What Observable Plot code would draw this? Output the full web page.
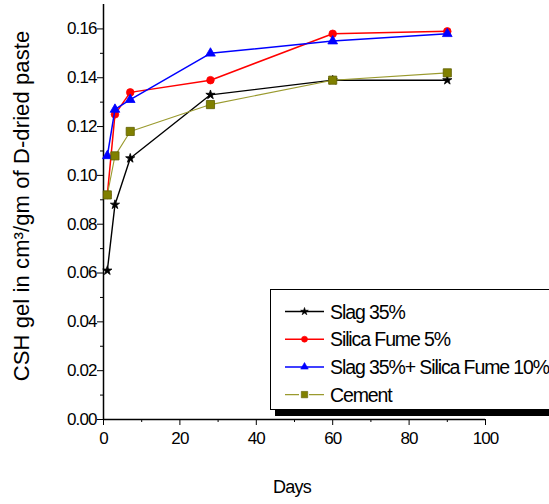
<!DOCTYPE html>
<html>
<head>
<meta charset="utf-8">
<script src="https://cdn.jsdelivr.net/npm/d3@7"></script>
<script src="https://cdn.jsdelivr.net/npm/@observablehq/plot@0.6"></script>
<style>
  html, body { margin: 0; padding: 0; background: #fff; }
  #wrap { position: relative; width: 549px; height: 504px; overflow: hidden; font-family: "Liberation Sans", Arial, sans-serif; }
  #wrap > svg { position: absolute; left: 0; top: 0; }
  #overlay { pointer-events: none; }
</style>
</head>
<body>
<div id="wrap"></div>
<script>
// ---- data ----
const days = [1, 3, 7, 28, 60, 90];
const seriesNames = ["Slag 35%", "Silica Fume 5%", "Slag 35%+ Silica Fume 10%", "Cement"];
const slag35 = [0.061, 0.088, 0.107, 0.133, 0.139, 0.139];
const silicaFume5 = [0.092, 0.125, 0.134, 0.139, 0.158, 0.159];
const slag35SilicaFume10 = [0.108, 0.127, 0.131, 0.150, 0.155, 0.158];
const cement = [0.092, 0.108, 0.118, 0.129, 0.139, 0.142];
const xTicks = [0, 20, 40, 60, 80, 100];
const yTicks = [0, 0.02, 0.04, 0.06, 0.08, 0.10, 0.12, 0.14, 0.16];
const xLabel = "Days";
const yLabel = "CSH gel in cm³/gm of D-dried paste";

// ---- styles ----
const styles = [
  {line: "#000000", lw: 1.4, fill: "#000000", stroke: "#000000", symbol: "star", r: 2.9, lr: 2.4},
  {line: "#ff0000", lw: 1.5, fill: "#ff0000", stroke: "#ff0000", symbol: "circle", r: 3.8, lr: 3},
  {line: "#0000ff", lw: 1.5, fill: "#0000ff", stroke: "#0000ff", symbol: "triangle", r: 3.6, lr: 2.8},
  {line: "#9a9a2e", lw: 1.1, fill: "#808000", stroke: "#5e5e00", symbol: "square", r: 4.6, lr: 3.6}
];
const values = [slag35, silicaFume5, slag35SilicaFume10, cement];
const rows = seriesNames.map((name, i) => days.map((d, j) => ({series: name, day: d, value: values[i][j]})));

const minorX = d3.range(10, 100, 20);
const minorY = d3.range(0.01, 0.17, 0.02);

const marks = [
  Plot.axisX({ticks: xTicks, tickSize: 6, tickPadding: 6, label: null, fontSize: 17}),
  Plot.axisX({ticks: minorX, tickSize: 3, tickFormat: () => "", label: null}),
  Plot.axisY({ticks: yTicks, tickSize: 6, tickPadding: 1, tickFormat: d3.format(".2f"), label: null, fontSize: 17}),
  Plot.axisY({ticks: minorY, tickSize: 3, tickFormat: () => "", label: null}),
  Plot.ruleX([0], {strokeWidth: 1.5}),
  Plot.ruleY([0], {strokeWidth: 1.5})
];
rows.forEach((data, i) => {
  const s = styles[i];
  marks.push(Plot.line(data, {x: "day", y: "value", stroke: s.line, strokeWidth: s.lw}));
  marks.push(Plot.dot(data, {x: "day", y: "value", symbol: () => s.symbol, r: s.r, fill: s.fill, stroke: s.stroke, strokeWidth: 0.8}));
});

const chart = Plot.plot({
  width: 549,
  height: 504,
  marginLeft: 103,
  marginRight: 64,
  marginTop: 4,
  marginBottom: 85,
  x: {domain: [0, 100]},
  y: {domain: [0, 0.17]},
  symbol: {type: "identity"},
  style: {fontFamily: "'Liberation Sans', Arial, sans-serif", color: "black", background: "white", overflow: "visible"},
  marks
});
chart.style.letterSpacing = "-0.9px";
document.getElementById("wrap").appendChild(chart);

// ---- overlay: axis titles + legend ----
const ov = d3.select("#wrap").append("svg").attr("id", "overlay")
  .attr("width", 549).attr("height", 504)
  .style("font-family", "'Liberation Sans', Arial, sans-serif");

ov.append("text")
  .attr("transform", "translate(29,206) rotate(-90)")
  .attr("text-anchor", "middle")
  .style("font-size", "22px")
  .style("letter-spacing", "0.1px")
  .text(yLabel);

ov.append("text")
  .attr("x", 292).attr("y", 493)
  .attr("text-anchor", "middle")
  .style("font-size", "18px")
  .style("letter-spacing", "-0.8px")
  .text(xLabel);

const lg = ov.append("g");
lg.append("rect").attr("x", 275).attr("y", 295).attr("width", 300).attr("height", 121).attr("fill", "#000");
lg.append("rect").attr("x", 270.5).attr("y", 289.5).attr("width", 300).attr("height", 120)
  .attr("fill", "#fff").attr("stroke", "#000").attr("stroke-width", 1);
seriesNames.forEach((name, i) => {
  const s = styles[i];
  const cy = 311.5 + i * 27.7;
  lg.append("line").attr("x1", 285).attr("x2", 324).attr("y1", cy).attr("y2", cy)
    .attr("stroke", s.line).attr("stroke-width", s.lw);
  const sym = {star: d3.symbolStar, circle: d3.symbolCircle, triangle: d3.symbolTriangle, square: d3.symbolSquare}[s.symbol];
  if (s.symbol === "square") {
    lg.append("rect").attr("x", 299).attr("y", cy - 6).attr("width", 10).attr("height", 12).attr("fill", "#fff");
  }
  lg.append("path").attr("transform", `translate(304.5,${cy})`)
    .attr("d", d3.symbol(sym, Math.PI * s.lr * s.lr)())
    .attr("fill", s.fill).attr("stroke", s.stroke).attr("stroke-width", 0.6);
  lg.append("text").attr("x", 330).attr("y", cy).attr("dy", "0.36em")
    .style("font-size", "19.5px").style("letter-spacing", "-1.1px")
    .text(name);
});
</script>
</body>
</html>
